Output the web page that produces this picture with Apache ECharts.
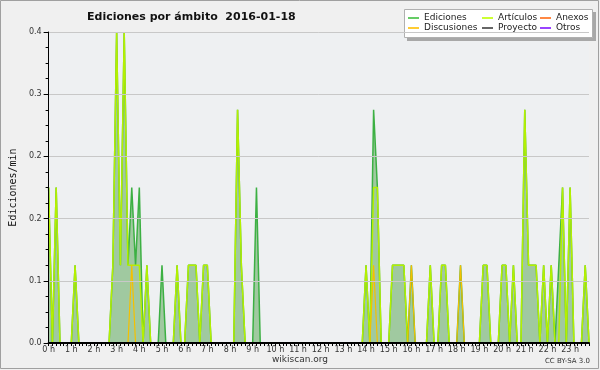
<!DOCTYPE html>
<html><head><meta charset="utf-8">
<script src="https://cdn.jsdelivr.net/npm/echarts/dist/echarts.min.js"></script>
<style>html,body{margin:0;padding:0;background:#f0f0f0}#c{width:600px;height:370px}</style>
</head><body><div id="c"></div><script>
// 10-minute bins, 144 per day, values in edits/min
const hourLabels = ['0 h','1 h','2 h','3 h','4 h','5 h','6 h','7 h','8 h','9 h','10 h','11 h','12 h','13 h','14 h','15 h','16 h','17 h','18 h','19 h','20 h','21 h','22 h','23 h'];
const ediciones = [
 0.2,0,0.2,0,0,0, 0,0.1,0,0,0,0, 0,0,0,0,0,0.1, 0.4,0.1,0.4,0.1,0.2,0.1, 0.2,0,0.1,0,0,0,
 0.1,0,0,0,0.1,0, 0,0.1,0.1,0.1,0,0.1, 0.1,0,0,0,0,0, 0,0,0.3,0.1,0,0, 0,0.2,0,0,0,0,
 0,0,0,0,0,0, 0,0,0,0,0,0, 0,0,0,0,0,0, 0,0,0,0,0,0, 0.1,0,0.3,0.2,0,0,
 0,0.1,0.1,0.1,0.1,0, 0.1,0,0,0,0,0.1, 0,0,0.1,0.1,0,0, 0,0.1,0,0,0,0, 0,0.1,0.1,0,0,0,
 0.1,0.1,0,0.1,0,0, 0.3,0.1,0.1,0.1,0,0.1, 0,0.1,0,0.1,0.2,0, 0.2,0,0,0,0.1,0
];
const articulos = [
 0.2,0,0.2,0,0,0, 0,0.1,0,0,0,0, 0,0,0,0,0,0.1, 0.4,0.1,0.4,0.1,0.1,0.1, 0.1,0,0.1,0,0,0,
 0,0,0,0,0.1,0, 0,0.1,0.1,0.1,0,0.1, 0.1,0,0,0,0,0, 0,0,0.3,0.1,0,0, 0,0,0,0,0,0,
 0,0,0,0,0,0, 0,0,0,0,0,0, 0,0,0,0,0,0, 0,0,0,0,0,0, 0.1,0,0.2,0.2,0,0,
 0,0.1,0.1,0.1,0.1,0, 0,0,0,0,0,0.1, 0,0,0.1,0.1,0,0, 0,0,0,0,0,0, 0,0.1,0.1,0,0,0,
 0.1,0.1,0,0.1,0,0, 0.3,0.1,0.1,0.1,0,0.1, 0,0.1,0,0,0.2,0, 0.2,0,0,0,0.1,0
];
const discusiones = [
 0,0,0,0,0,0, 0,0,0,0,0,0, 0,0,0,0,0,0, 0,0,0,0,0.1,0, 0,0,0,0,0,0,
 0,0,0,0,0,0, 0,0,0,0,0,0, 0,0,0,0,0,0, 0,0,0,0,0,0, 0,0,0,0,0,0,
 0,0,0,0,0,0, 0,0,0,0,0,0, 0,0,0,0,0,0, 0,0,0,0,0,0, 0,0,0.1,0,0,0,
 0,0,0,0,0,0, 0.1,0,0,0,0,0, 0,0,0,0,0,0, 0,0.1,0,0,0,0, 0,0,0,0,0,0,
 0,0,0,0,0,0, 0,0,0,0,0,0, 0,0,0,0,0,0, 0,0,0,0,0,0
];
const anexos = [];
const proyecto = [];
const otros = [];

const categories = [];
for (let h = 0; h < 24; h++) for (let m = 0; m < 60; m += 10) categories.push(h + ':' + (m < 10 ? '0' : '') + m);

const chart = echarts.init(document.getElementById('c'), null, {renderer: 'canvas'});
const legendBase = {orient: 'vertical', top: 13, itemWidth: 11, itemHeight: 2, icon: 'rect', itemGap: 0,
  textStyle: {fontFamily: 'DejaVu Sans', fontSize: 9, color: '#222', lineHeight: 10}, selectedMode: false, padding: 0};
chart.setOption({
  animation: false,
  backgroundColor: '#f0f0f0',
  title: {text: 'Ediciones por ámbito  2016-01-18', left: 82, top: 7,
    textStyle: {fontFamily: 'DejaVu Sans', fontWeight: 'bold', fontSize: 11, color: '#111'}},
  graphic: [
    {type: 'rect', shape: {x: 0.5, y: 0.5, width: 598, height: 368}, style: {fill: 'none', stroke: '#a0a0a0', lineWidth: 1}, silent: true, z: -1},
    {type: 'rect', shape: {x: 407, y: 12, width: 189, height: 29}, style: {fill: '#a8a8a8'}, silent: true, z: 0},
    {type: 'rect', shape: {x: 404.5, y: 9.5, width: 188, height: 28}, style: {fill: '#ffffff', stroke: '#b0b0b0', lineWidth: 1}, silent: true, z: 0},
    {type: 'text', left: 'center', top: 355, style: {text: 'wikiscan.org', fontFamily: 'DejaVu Sans', fontSize: 9, fill: '#333'}, silent: true},
    {type: 'text', right: 10, top: 358, style: {text: 'CC BY-SA 3.0', fontFamily: 'DejaVu Sans', fontSize: 7, fill: '#333'}, silent: true}
  ],
  legend: [
    Object.assign({left: 408, data: ['Ediciones', 'Discusiones']}, legendBase),
    Object.assign({left: 482, data: ['Artículos', 'Proyecto']}, legendBase),
    Object.assign({left: 540, data: ['Anexos', 'Otros']}, legendBase)
  ],
  grid: {left: 47, right: 11, top: 32, bottom: 27, show: true, backgroundColor: '#eef0f2', borderWidth: 0},
  xAxis: {type: 'category', data: categories, boundaryGap: false, z: 10,
    axisLine: {lineStyle: {color: '#000', width: 2}},
    axisTick: {interval: 0, length: 3, lineStyle: {color: '#000'}},
    axisLabel: {interval: (i) => i % 6 === 0, formatter: (v, i) => hourLabels[i / 6], fontFamily: 'DejaVu Sans', fontSize: 8, color: '#333', margin: 3},
    splitLine: {show: false}},
  yAxis: {type: 'value', min: 0, max: 0.4, interval: 0.08, z: 10,
    name: 'Ediciones/min', nameLocation: 'middle', nameGap: 30, nameRotate: 90,
    nameTextStyle: {fontFamily: 'DejaVu Sans Mono', fontSize: 10, color: '#111'},
    axisLine: {show: true, lineStyle: {color: '#000'}},
    axisTick: {show: true, length: 5, lineStyle: {color: '#000'}},
    minorTick: {show: true, splitNumber: 4, length: 3, lineStyle: {color: '#000'}},
    axisLabel: {formatter: (v) => v.toFixed(1), fontFamily: 'DejaVu Sans', fontSize: 8, color: '#333', margin: 7},
    splitLine: {lineStyle: {color: '#c8c8c8'}}},
  series: [
    {name: 'Ediciones', type: 'line', data: ediciones, symbol: 'none', color: '#66cc66',
      lineStyle: {color: '#3cb043', width: 1.5}, areaStyle: {color: '#a0c9a0', opacity: 1}, z: 2},
    {name: 'Artículos', type: 'line', data: articulos, symbol: 'none', color: '#ccff33',
      lineStyle: {color: '#b4f000', width: 1.5}, z: 3},
    {name: 'Anexos', type: 'line', data: anexos, symbol: 'none', color: '#ff8844', lineStyle: {width: 1}, z: 3},
    {name: 'Discusiones', type: 'line', data: discusiones, symbol: 'none', color: '#ffcc33',
      lineStyle: {color: '#f5c000', width: 1.2}, z: 4},
    {name: 'Proyecto', type: 'line', data: proyecto, symbol: 'none', color: '#666666', lineStyle: {width: 1}, z: 3},
    {name: 'Otros', type: 'line', data: otros, symbol: 'none', color: '#9944ff', lineStyle: {width: 1}, z: 3}
  ]
});
</script></body></html>
